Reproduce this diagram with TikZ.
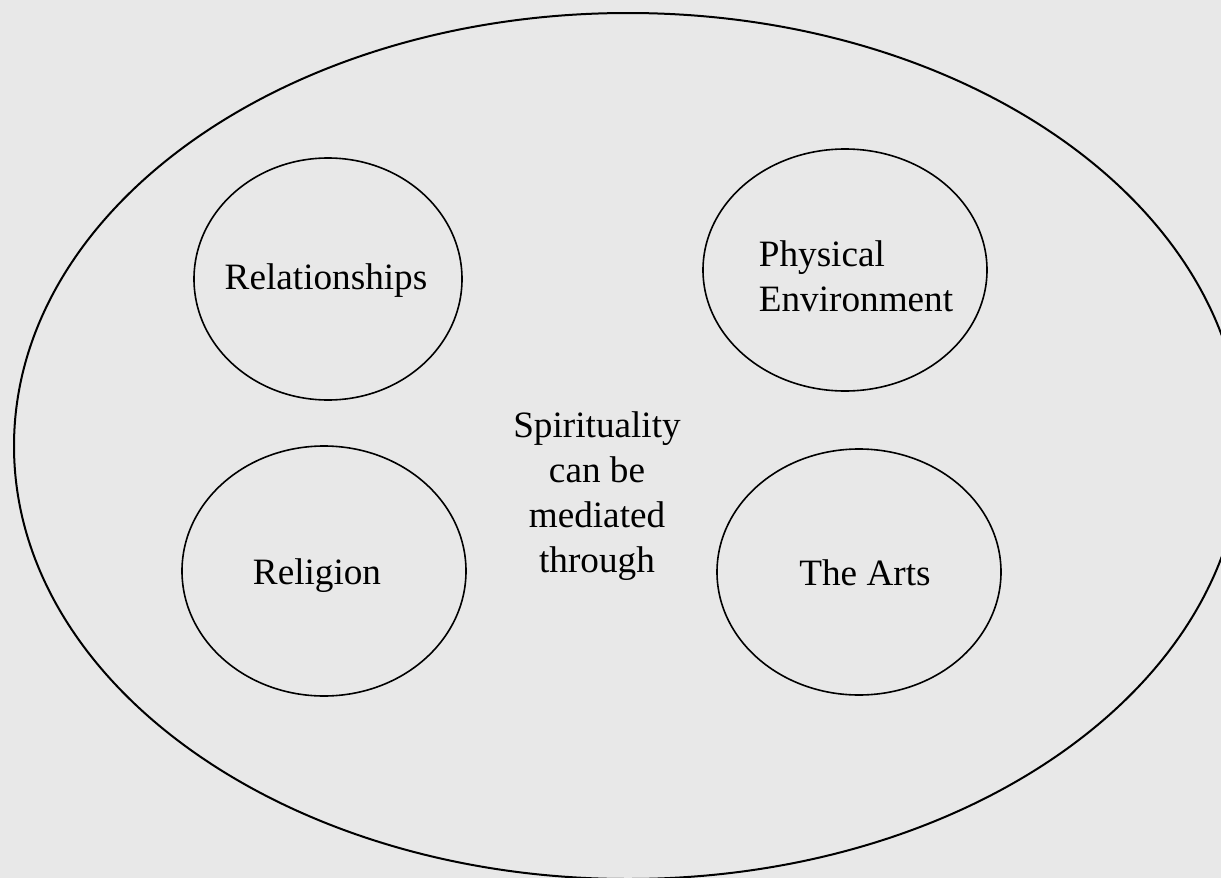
\documentclass[tikz,border=0pt]{standalone}
\usepackage{fontspec}
\setmainfont{Liberation Serif}
\usetikzlibrary{shapes.geometric}
\definecolor{paper}{RGB}{232,232,232}
\tikzset{
	bubble/.style={draw, ellipse, line width=0.8pt, inner sep=0pt},
	small/.style={bubble, minimum width=142pt, minimum height=122pt},
	word/.style={inner sep=0pt, align=center},
}
\begin{document}
\begin{tikzpicture}[x=0.5pt, y=-0.5pt, font=\fontsize{18.6}{22.5}\selectfont, line join=round, line cap=round]
					%%%%%%%%%%%%%%%%%%%%%%%%%%%%%%%%%
					\fill[paper] (0,0) rectangle (1221,878);
					\useasboundingbox (0,0) rectangle (1221,878);
					\clip (0,0) rectangle (1221,878);
					%%%%%%%%%%%%%%%%%%%%%%%%%%%%%%%%%
					\node[bubble, line width=1pt, minimum width=614pt, minimum height=433pt] (whole) at (628,446) {};
					\node[word] (core) at (597,496) {Spirituality\\can be\\mediated\\through};
					%%%%%%%%%%%%%%%%%%%%%%%%%%%%%%%%%
					\node[small, minimum width=134pt, minimum height=121pt] (rel) at (328,279) {};
					\node[small, minimum height=121pt] (phys) at (845,270) {};
					\node[small, minimum height=125pt] (relig) at (324,571) {};
					\node[small, minimum height=123pt] (arts) at (859,572) {};
					%%%%%%%%%%%%%%%%%%%%%%%%%%%%%%%%%
					\node[word] (rellbl) at ([shift={(-2,2)}]rel.center) {Relationships};
					\node[word, align=left] (physlbl) at ([shift={(11,6)}]phys.center) {Physical\\Environment};
					\node[word] (religlbl) at ([shift={(-7,5)}]relig.center) {Religion};
					\node[word] (artslbl) at ([shift={(6,1)}]arts.center) {The Arts};
					%%%%%%%%%%%%%%%%%%%%%%%%%%%%%%%%%
\end{tikzpicture}
\end{document}
